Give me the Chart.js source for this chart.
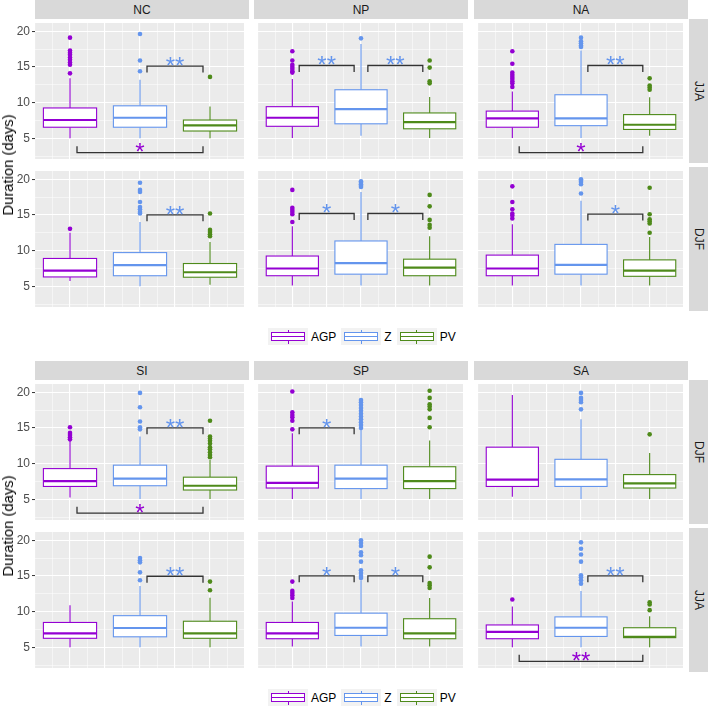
<!DOCTYPE html>
<html>
<head>
<meta charset="utf-8">
<script src="https://cdn.jsdelivr.net/npm/chart.js@4.4.0/dist/chart.umd.min.js"></script>
<style>
  body { margin: 0; width: 708px; height: 706px; position: relative; overflow: hidden; background: #fff;
         font-family: "Liberation Sans", Arial, sans-serif; }
  canvas { position: absolute; }
  .strip { position: absolute; background: #d9d9d9; color: #1a1a1a; font-size: 12px;
           display: flex; align-items: center; justify-content: center; }
  .strip.v span { transform: rotate(90deg); white-space: nowrap; }
  .ytitle { position: absolute; left: 8px; font-size: 14.8px; color: #000; white-space: nowrap;
            transform: translate(-50%, -50%) rotate(-90deg); }
  .legend { position: absolute; display: flex; align-items: center; font-size: 12px; color: #000; }
  .legend .item { display: flex; align-items: center; margin-right: 5px; }
  .legend .lab { margin-left: 3px; }
  .key { position: relative; width: 40px; height: 17px; background: #f2f2f2; }
  .key .wh { position: absolute; left: 19.5px; top: 1.5px; width: 1.1px; height: 14px; }
  .key .bx { position: absolute; left: 3px; top: 3.5px; width: 32px; height: 7.5px; border: 1.1px solid; background: #fff; }
  .key .md { position: absolute; left: 3px; top: 7.6px; width: 34px; height: 1.8px; }
</style>
</head>
<body>
<script>
// groups and facets
const groups = ['AGP', 'Z', 'PV'];
const groupColors = ['#9400D3', '#6495ED', '#4E8A1A'];
const yTickValues = [5, 10, 15, 20];
const topRegions = ['NC', 'NP', 'NA'];
const topSeasons = ['JJA', 'DJF'];
const bottomRegions = ['SI', 'SP', 'SA'];
const bottomSeasons = ['DJF', 'JJA'];

// box stats per group: [lower whisker, Q1, median, Q3, upper whisker]
// outliers per group; significance: [group a, group b, bracket height, label]
const NC_JJA_box = [[5.0, 6.55, 7.56, 9.25, 13.4], [5.0, 6.55, 7.88, 9.55, 13.2], [5.0, 6.02, 6.82, 7.56, 9.47]];
const NC_JJA_out = [[19.1, 17.3, 17.0, 16.7, 16.3, 16.0, 15.6, 15.3, 14.1], [19.6, 15.9, 14.4], [13.6]];
const NC_JJA_sig = [[2, 3, 15.1, '**'], [1, 3, 3.0, '*']];

const NP_JJA_box = [[5.04, 6.68, 7.88, 9.43, 13.3], [5.35, 7.03, 9.1, 11.8, 18.2], [5.04, 6.33, 7.26, 8.55, 10.8]];
const NP_JJA_out = [[17.2, 15.9, 15.3, 15.0, 14.7, 14.4, 14.2], [19.0], [15.9, 14.9, 13.0, 12.7]];
const NP_JJA_sig = [[1, 2, 15.2, '**'], [2, 3, 15.2, '**']];

const NA_JJA_box = [[5.04, 6.55, 7.79, 8.81, 11.55], [5.04, 6.77, 7.79, 11.1, 17.3], [5.35, 6.24, 6.9, 8.32, 10.75]];
const NA_JJA_out = [[17.2, 15.45, 14.2, 13.9, 13.6, 13.3, 13.0, 12.7, 12.2], [19.1, 18.6, 18.3, 18.0, 17.8], [13.4, 12.4, 12.1, 11.8]];
const NA_JJA_sig = [[2, 3, 15.2, '**'], [1, 3, 3.0, '*']];

const NC_DJF_box = [[5.75, 6.31, 7.19, 8.9, 12.5], [5.0, 6.48, 7.97, 9.72, 14.0], [5.2, 6.27, 6.97, 8.19, 11.2]];
const NC_DJF_out = [[13.05], [19.5, 18.5, 18.2, 16.8, 16.1, 15.8, 15.4, 15.2], [15.2, 12.9, 12.6, 12.3, 12.0]];
const NC_DJF_sig = [[2, 3, 15.0, '**']];

const NP_DJF_box = [[5.1, 6.48, 7.49, 9.24, 13.4], [5.1, 6.7, 8.24, 11.35, 18.2], [5.1, 6.48, 7.62, 8.8, 12.0]];
const NP_DJF_out = [[18.5, 16.0, 15.7, 15.4, 15.1, 14.0], [19.7, 19.5, 19.3, 19.1, 18.9], [17.8, 16.2, 14.3, 13.6, 13.2]];
const NP_DJF_sig = [[1, 2, 15.2, '*'], [2, 3, 15.2, '*']];

const NA_DJF_box = [[5.1, 6.48, 7.49, 9.37, 13.7], [5.1, 6.7, 8.0, 10.87, 17.0], [5.1, 6.4, 7.19, 8.7, 11.9]];
const NA_DJF_out = [[19.0, 16.8, 15.8, 15.2, 14.9, 14.5], [20.0, 19.8, 19.6, 19.3, 18.0], [18.8, 15.1, 14.4, 14.1, 13.8, 12.5]];
const NA_DJF_sig = [[2, 3, 15.1, '*']];

const SI_DJF_box = [[5.26, 6.8, 7.54, 9.3, 13.15], [5.04, 6.9, 7.9, 9.78, 13.8], [5.04, 6.3, 6.9, 8.1, 10.5]];
const SI_DJF_out = [[15.1, 14.3, 14.0, 13.7, 13.4], [19.9, 17.9, 15.9, 15.1, 14.8], [16.0, 13.8, 13.5, 13.2, 12.8, 12.3, 12.0, 11.6, 11.2, 10.9]];
const SI_DJF_sig = [[2, 3, 15.0, '**'], [1, 3, 3.07, '*']];

const SP_DJF_box = [[5.04, 6.58, 7.3, 9.65, 14.25], [5.04, 6.5, 7.9, 9.78, 14.7], [5.04, 6.5, 7.54, 9.56, 13.25]];
const SP_DJF_out = [[20.1, 17.2, 16.8, 16.5, 16.0, 14.8], [18.9, 18.6, 18.2, 17.8, 17.4, 17.0, 16.6, 16.2, 15.8, 15.4, 15.0], [20.2, 19.2, 18.3, 18.0, 17.6, 16.4, 15.1]];
const SP_DJF_sig = [[1, 2, 15.0, '*']];

const SA_DJF_box = [[5.35, 6.8, 7.76, 12.3, 19.6], [5.04, 6.8, 7.8, 10.6, 16.2], [5.04, 6.58, 7.24, 8.46, 11.5]];
const SA_DJF_out = [[], [19.9, 19.2, 18.9, 18.6, 17.6], [14.1]];
const SA_DJF_sig = [];

const SI_JJA_box = [[5.0, 6.26, 6.96, 8.48, 10.9], [5.0, 6.47, 7.7, 9.43, 13.6], [5.0, 6.26, 6.96, 8.65, 11.95]];
const SI_JJA_out = [[], [17.5, 17.2, 16.9, 15.5, 14.4], [14.2, 13.0]];
const SI_JJA_sig = [[2, 3, 14.95, '**']];

const SP_JJA_box = [[5.1, 6.2, 6.96, 8.48, 11.4], [5.1, 6.66, 7.74, 9.78, 14.4], [5.1, 6.2, 6.96, 9.0, 11.9]];
const SP_JJA_out = [[14.2, 12.9, 12.6, 12.3, 11.9], [20.0, 19.6, 19.2, 18.3, 17.9, 17.0, 15.8, 15.4, 15.0, 14.7], [17.7, 16.2, 14.0, 13.7, 13.3]];
const SP_JJA_sig = [[1, 2, 15.0, '*'], [2, 3, 15.0, '*']];

const SA_JJA_box = [[5.0, 6.2, 7.17, 8.13, 10.7], [5.0, 6.52, 7.74, 9.26, 12.9], [5.0, 6.35, 6.45, 7.74, 9.35]];
const SA_JJA_out = [[11.7], [19.7, 18.8, 18.0, 17.0, 15.1, 14.8, 14.4, 13.9], [11.3, 11.0, 10.2]];
const SA_JJA_sig = [[2, 3, 15.0, '**'], [1, 3, 3.04, '**']];

const topPanels = [
  [[NC_JJA_box, NC_JJA_out, NC_JJA_sig], [NP_JJA_box, NP_JJA_out, NP_JJA_sig], [NA_JJA_box, NA_JJA_out, NA_JJA_sig]],
  [[NC_DJF_box, NC_DJF_out, NC_DJF_sig], [NP_DJF_box, NP_DJF_out, NP_DJF_sig], [NA_DJF_box, NA_DJF_out, NA_DJF_sig]]
];
const bottomPanels = [
  [[SI_DJF_box, SI_DJF_out, SI_DJF_sig], [SP_DJF_box, SP_DJF_out, SP_DJF_sig], [SA_DJF_box, SA_DJF_out, SA_DJF_sig]],
  [[SI_JJA_box, SI_JJA_out, SI_JJA_sig], [SP_JJA_box, SP_JJA_out, SP_JJA_sig], [SA_JJA_box, SA_JJA_out, SA_JJA_sig]]
];

// layout
const colLeft = [35, 254, 474];
const panelW = 214, panelH = 144, stripH = 19, axisW = 35;
const rowTop = [19, 167];
const rightStripX = 689;

function isMult(v, step) {
  return Math.abs(v / step - Math.round(v / step)) < 1e-6;
}

function boxPlugin(box, sig) {
  return {
    id: 'boxes',
    beforeDraw(chart) {
      const { ctx, chartArea: a } = chart;
      ctx.save();
      ctx.fillStyle = '#ebebeb';
      ctx.fillRect(a.left, a.top, a.width, a.height);
      ctx.restore();
    },
    beforeDatasetsDraw(chart) {
      const { ctx, scales: { x, y } } = chart;
      ctx.save();
      box.forEach((s, i) => {
        const [lo, q1, med, q3, hi] = s;
        const cx = x.getPixelForValue(i + 1);
        const x0 = x.getPixelForValue(i + 1 - 0.38);
        const x1 = x.getPixelForValue(i + 1 + 0.38);
        const yt = y.getPixelForValue(q3), yb = y.getPixelForValue(q1);
        ctx.strokeStyle = groupColors[i];
        ctx.lineWidth = 1.1;
        ctx.beginPath();
        ctx.moveTo(cx, y.getPixelForValue(hi));
        ctx.lineTo(cx, yt);
        ctx.moveTo(cx, yb);
        ctx.lineTo(cx, y.getPixelForValue(lo));
        ctx.stroke();
        ctx.fillStyle = '#fff';
        ctx.fillRect(x0, yt, x1 - x0, yb - yt);
        ctx.strokeRect(x0, yt, x1 - x0, yb - yt);
        const ym = y.getPixelForValue(med);
        ctx.lineWidth = 2.2;
        ctx.beginPath();
        ctx.moveTo(x0, ym);
        ctx.lineTo(x1, ym);
        ctx.stroke();
      });
      ctx.restore();
    },
    afterDatasetsDraw(chart) {
      const { ctx, scales: { x, y } } = chart;
      ctx.save();
      sig.forEach(([a, b, v, label]) => {
        const xa = x.getPixelForValue(a + 0.1), xb = x.getPixelForValue(b - 0.1);
        const yv = y.getPixelForValue(v);
        const yTip = y.getPixelForValue(v > 10 ? v - 0.9 : v + 0.9);
        ctx.strokeStyle = '#333';
        ctx.lineWidth = 1.3;
        ctx.beginPath();
        ctx.moveTo(xa, yTip);
        ctx.lineTo(xa, yv);
        ctx.lineTo(xb, yv);
        ctx.lineTo(xb, yTip);
        ctx.stroke();
        const fs = 24;
        ctx.font = fs + 'px "Liberation Sans", Arial, sans-serif';
        ctx.textAlign = 'center';
        ctx.textBaseline = 'alphabetic';
        ctx.fillStyle = (a === 1 && b === 3) ? groupColors[0] : groupColors[1];
        ctx.fillText(label, (xa + xb) / 2, yv - 6 + 0.575 * fs);
      });
      ctx.restore();
    }
  };
}

function makePanel(left, top, box, out, sig, showY) {
  const aw = showY ? axisW : 0;
  const cv = document.createElement('canvas');
  cv.width = panelW + aw;
  cv.height = panelH;
  cv.style.left = (left - aw) + 'px';
  cv.style.top = top + 'px';
  cv.style.width = (panelW + aw) + 'px';
  cv.style.height = panelH + 'px';
  document.body.appendChild(cv);
  new Chart(cv, {
    type: 'scatter',
    data: {
      datasets: groups.map((g, i) => ({
        label: g,
        data: out[i].map(v => ({ x: i + 1, y: v })),
        backgroundColor: groupColors[i],
        borderWidth: 0,
        pointRadius: 2.3
      }))
    },
    options: {
      responsive: false,
      animation: false,
      events: [],
      layout: { padding: 0 },
      plugins: { legend: { display: false }, tooltip: { enabled: false } },
      scales: {
        x: {
          type: 'linear', min: 0.5, max: 3.5,
          border: { display: false },
          ticks: { display: false, stepSize: 0.25, maxTicksLimit: 100, includeBounds: false },
          grid: { color: '#fff', drawTicks: false, lineWidth: c => isMult(c.tick.value, 0.5) ? 1.1 : 0.5 },
          afterFit: s => { s.height = 0; s.paddingLeft = 0; s.paddingRight = 0; }
        },
        y: {
          type: 'linear', min: 2.1, max: 21.15,
          border: { display: false },
          ticks: {
            display: showY, stepSize: 2.5, maxTicksLimit: 100, includeBounds: false, padding: 2,
            color: '#4d4d4d', font: { family: '"Liberation Sans", Arial, sans-serif', size: 12 },
            callback: v => yTickValues.includes(v) ? String(v) : ''
          },
          grid: {
            color: '#fff', drawTicks: showY, tickLength: 3, tickWidth: 1,
            tickColor: c => yTickValues.includes(c.tick.value) ? '#333' : 'rgba(0,0,0,0)',
            lineWidth: c => isMult(c.tick.value, 5) ? 1.1 : 0.5
          },
          afterFit: s => { s.width = aw; s.paddingTop = 0; s.paddingBottom = 0; }
        }
      }
    },
    plugins: [boxPlugin(box, sig)]
  });
}

function addDiv(cls, css, html) {
  const d = document.createElement('div');
  d.className = cls;
  d.style.cssText = css;
  d.innerHTML = html;
  document.body.appendChild(d);
  return d;
}

function makeLegend(top) {
  const lg = addDiv('legend', `left:268px;top:${top}px;`, '');
  groups.forEach((g, i) => {
    const c = groupColors[i];
    const item = document.createElement('div');
    item.className = 'item';
    item.innerHTML =
      `<div class="key"><div class="wh" style="background:${c}"></div>` +
      `<div class="bx" style="border-color:${c}"></div>` +
      `<div class="md" style="background:${c}"></div></div>` +
      `<span class="lab">${g}</span>`;
    lg.appendChild(item);
  });
}

function makeFigure(figTop, regions, seasons, panels) {
  regions.forEach((r, c) => {
    addDiv('strip', `left:${colLeft[c]}px;top:${figTop}px;width:${panelW}px;height:${stripH}px;`, r);
  });
  seasons.forEach((s, r) => {
    const top = figTop + rowTop[r];
    addDiv('strip v', `left:${rightStripX}px;top:${top}px;width:19px;height:${panelH}px;`, `<span>${s}</span>`);
    panels[r].forEach(([box, out, sig], c) => {
      makePanel(colLeft[c], top, box, out, sig, c === 0);
    });
  });
  addDiv('ytitle', `top:${figTop + 165}px;`, 'Duration (days)');
  makeLegend(figTop + 328);
}

makeFigure(0, topRegions, topSeasons, topPanels);
makeFigure(361, bottomRegions, bottomSeasons, bottomPanels);
</script>
</body>
</html>
